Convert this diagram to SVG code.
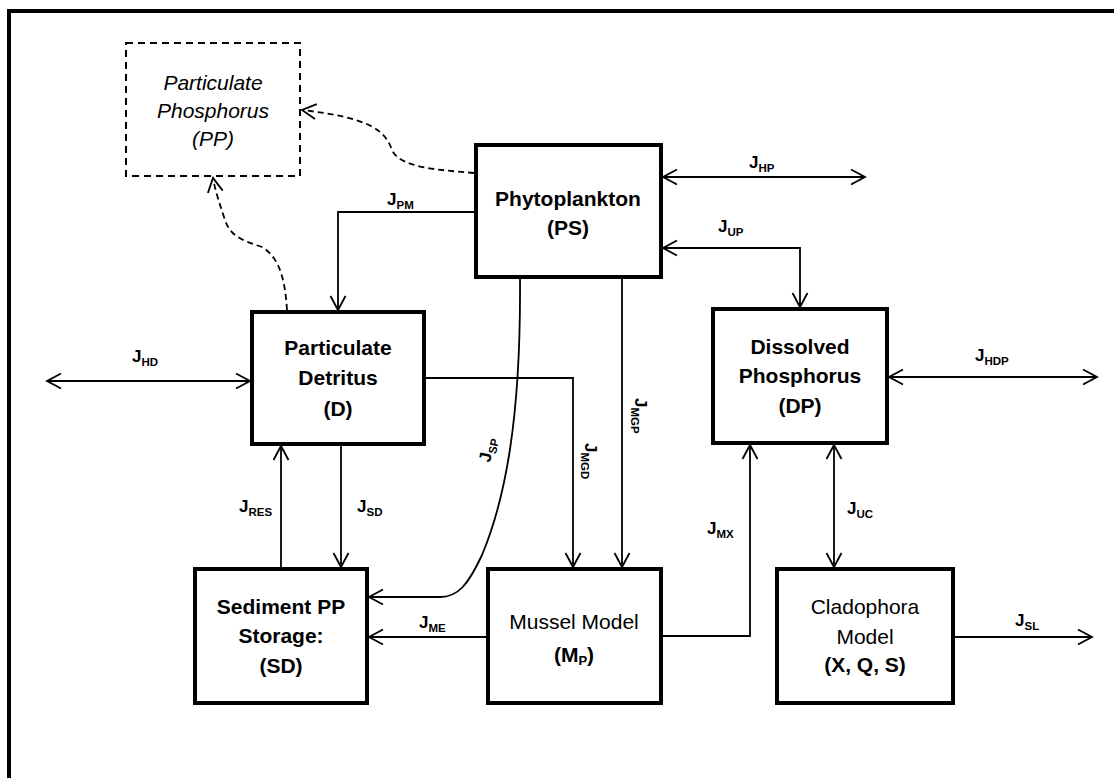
<svg xmlns="http://www.w3.org/2000/svg" width="1114" height="778" viewBox="0 0 1114 778">
<defs>
<style>
.box{fill:#fff;stroke:#000;stroke-width:4}
.dbox{fill:#fff;stroke:#000;stroke-width:2;stroke-dasharray:7 5}
.t{font-family:"Liberation Sans",Arial,sans-serif;font-size:21px;text-anchor:middle;fill:#000}
.b{font-weight:bold}
.i{font-style:italic}
.c{fill:none;stroke:#000;stroke-width:1.8}
.d{fill:none;stroke:#000;stroke-width:1.8;stroke-dasharray:6 4}
.l{font-family:"Liberation Sans",Arial,sans-serif;font-size:17px;font-weight:bold;fill:#000}
.s{font-size:11.5px}
</style>
<marker id="a" viewBox="-16 -9 18 18" refX="0" refY="0" markerWidth="18" markerHeight="18" markerUnits="userSpaceOnUse" orient="auto-start-reverse">
<path d="M-14,-7.5 L0,0 L-14,7.5" fill="none" stroke="#000" stroke-width="1.8"/>
</marker>
</defs>
<rect width="1114" height="778" fill="#fff"/>
<path d="M9,778 V11 H1114" fill="none" stroke="#000" stroke-width="4"/>

<g id="connectors">
<path class="c" d="M663,177 H865" marker-start="url(#a)" marker-end="url(#a)"/>
<path class="c" d="M663,248 H800 V307" marker-start="url(#a)" marker-end="url(#a)"/>
<path class="c" d="M474,212 H338 V310" marker-end="url(#a)"/>
<path class="c" d="M47,381 H250" marker-start="url(#a)" marker-end="url(#a)"/>
<path class="c" d="M426,378 H573 V567" marker-end="url(#a)"/>
<path class="c" d="M622,279 V567" marker-end="url(#a)"/>
<path class="c" d="M520,279 C521,420 505,500 482,555 C468,585 458,597 440,597 H369" marker-end="url(#a)"/>
<path class="c" d="M281,567 V446" marker-end="url(#a)"/>
<path class="c" d="M341,446 V567" marker-end="url(#a)"/>
<path class="c" d="M486,637 H369" marker-end="url(#a)"/>
<path class="c" d="M663,636 H750 V445" marker-end="url(#a)"/>
<path class="c" d="M834,445 V567" marker-start="url(#a)" marker-end="url(#a)"/>
<path class="c" d="M889,377 H1097" marker-start="url(#a)" marker-end="url(#a)"/>
<path class="c" d="M955,637 H1092" marker-end="url(#a)"/>
<path class="d" d="M474,173 C440,170 400,168 392,150 C385,130 370,118 302,110" marker-end="url(#a)"/>
<path class="d" d="M287,310 C285,280 280,258 262,247 C240,240 230,235 225,220 C220,205 215,190 213,178" marker-end="url(#a)"/>

<text class="l" x="749" y="168">J<tspan class="s" dy="4">HP</tspan></text>
<text class="l" x="718" y="232">J<tspan class="s" dy="4">UP</tspan></text>
<text class="l" x="387" y="205">J<tspan class="s" dy="4">PM</tspan></text>
<text class="l" x="132" y="362">J<tspan class="s" dy="4">HD</tspan></text>
<text class="l" x="975" y="361">J<tspan class="s" dy="4">HDP</tspan></text>
<text class="l" x="847" y="514">J<tspan class="s" dy="4">UC</tspan></text>
<text class="l" x="707" y="534">J<tspan class="s" dy="4">MX</tspan></text>
<text class="l" x="1015" y="626">J<tspan class="s" dy="4">SL</tspan></text>
<text class="l" x="239" y="512">J<tspan class="s" dy="4">RES</tspan></text>
<text class="l" x="357" y="512">J<tspan class="s" dy="4">SD</tspan></text>
<text class="l" x="419" y="628">J<tspan class="s" dy="4">ME</tspan></text>
<text class="l" transform="translate(585,443) rotate(90)">J<tspan class="s" dy="4">MGD</tspan></text>
<text class="l" transform="translate(635,398) rotate(90)">J<tspan class="s" dy="4">MGP</tspan></text>
<text class="l" transform="translate(490,463) rotate(-78)">J<tspan class="s" dy="4">SP</tspan></text>
</g>

<g id="node-pp">
<rect class="dbox" x="126" y="43" width="174" height="133"/>
<text class="t i" x="213" y="90" font-size="22">Particulate</text>
<text class="t i" x="213" y="118" font-size="22">Phosphorus</text>
<text class="t i" x="213" y="146" font-size="22">(PP)</text>
</g>

<g id="node-ps">
<rect class="box" x="476" y="145" width="185" height="132"/>
<text class="t b" x="568" y="206">Phytoplankton</text>
<text class="t b" x="568" y="235">(PS)</text>
</g>

<g id="node-d">
<rect class="box" x="252" y="312" width="172" height="132"/>
<text class="t b" x="338" y="355">Particulate</text>
<text class="t b" x="338" y="385">Detritus</text>
<text class="t b" x="338" y="416">(D)</text>
</g>

<g id="node-dp">
<rect class="box" x="713" y="309" width="174" height="134"/>
<text class="t b" x="800" y="354">Dissolved</text>
<text class="t b" x="800" y="383">Phosphorus</text>
<text class="t b" x="800" y="413">(DP)</text>
</g>

<g id="node-sd">
<rect class="box" x="195" y="569" width="172" height="134"/>
<text class="t b" x="281" y="614">Sediment PP</text>
<text class="t b" x="281" y="643">Storage:</text>
<text class="t b" x="281" y="673">(SD)</text>
</g>

<g id="node-mp">
<rect class="box" x="488" y="569" width="173" height="134"/>
<text class="t" x="574" y="629">Mussel Model</text>
<text class="t b" x="574" y="662">(M<tspan font-size="13" dy="3">P</tspan><tspan dy="-3">)</tspan></text>
</g>

<g id="node-clad">
<rect class="box" x="777" y="569" width="176" height="134"/>
<text class="t" x="865" y="614">Cladophora</text>
<text class="t" x="865" y="644">Model</text>
<text class="t b" x="865" y="672">(X, Q, S)</text>
</g>
</svg>
